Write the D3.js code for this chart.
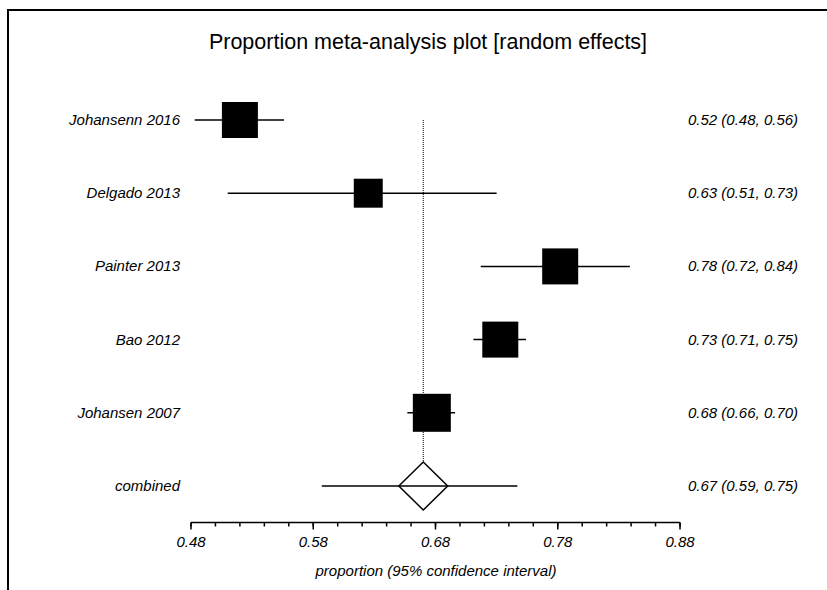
<!DOCTYPE html>
<html>
<head>
<meta charset="utf-8">
<script src="https://cdn.jsdelivr.net/npm/d3@7"></script>
<style>
  body { margin: 0; background: #fff; }
  svg { display: block; font-family: "Liberation Sans", Arial, sans-serif; }
</style>
</head>
<body>
<svg width="827" height="590"></svg>
<script>
// Study data
var studies = ["Johansenn 2016", "Delgado 2013", "Painter 2013", "Bao 2012", "Johansen 2007"];
var estimates = [0.520, 0.625, 0.782, 0.733, 0.677];
var lower = [0.483, 0.510, 0.717, 0.711, 0.657];
var upper = [0.556, 0.730, 0.839, 0.754, 0.696];
var weights = [21.0, 13.6, 21.0, 21.0, 23.4];   // % weight (box area)
var estLabels = ["0.52 (0.48, 0.56)", "0.63 (0.51, 0.73)", "0.78 (0.72, 0.84)",
                 "0.73 (0.71, 0.75)", "0.68 (0.66, 0.70)"];

// Pooled estimate
var pooled = {name: "combined", est: 0.670, ciLo: 0.650, ciHi: 0.690,
              lo: 0.587, hi: 0.747, label: "0.67 (0.59, 0.75)"};

var ticks = [0.48, 0.58, 0.68, 0.78, 0.88];
var minorTicks = d3.range(0, 21).map(function(i) { return 0.48 + i * 0.02; });

var svg = d3.select("svg");

// frame
svg.append("rect")
    .attr("x", 8).attr("y", 10)
    .attr("width", 840).attr("height", 600)
    .attr("fill", "none")
    .attr("stroke", "#000")
    .attr("stroke-width", 2);

svg.append("text")
    .attr("x", 428).attr("y", 49)
    .attr("text-anchor", "middle")
    .style("font-size", "21.5px")
    .text("Proportion meta-analysis plot [random effects]");

var x = d3.scaleLinear().domain([0.48, 0.88]).range([191, 680]);
var rows = studies.concat([pooled.name]);
var y = d3.scalePoint().domain(rows).range([120, 486]);
var box = d3.scaleSqrt().domain([0, d3.max(weights)]).range([0, 38]);

var data = studies.map(function(s, i) {
  return {name: s, est: estimates[i], lo: lower[i], hi: upper[i], w: weights[i], label: estLabels[i]};
});

// dotted line at pooled estimate
svg.append("line")
    .attr("x1", x(pooled.est)).attr("x2", x(pooled.est))
    .attr("y1", y(studies[0])).attr("y2", y(pooled.name) - 24)
    .attr("stroke", "#000")
    .attr("stroke-width", 1)
    .attr("stroke-dasharray", "1,1");

var g = svg.append("g");

// CI lines
g.selectAll(".ci")
    .data(data)
  .enter().append("line")
    .attr("x1", function(d) { return x(d.lo); })
    .attr("x2", function(d) { return x(d.hi); })
    .attr("y1", function(d) { return y(d.name); })
    .attr("y2", function(d) { return y(d.name); })
    .attr("stroke", "#000")
    .attr("stroke-width", 1.5);

// boxes
g.selectAll(".box")
    .data(data)
  .enter().append("rect")
    .attr("x", function(d) { return x(d.est) - box(d.w) / 2; })
    .attr("y", function(d) { return y(d.name) - box(d.w) / 2; })
    .attr("width", function(d) { return box(d.w); })
    .attr("height", function(d) { return box(d.w); })
    .attr("fill", "#000");

// pooled line + diamond
var py = y(pooled.name);
g.append("line")
    .attr("x1", x(pooled.lo)).attr("x2", x(pooled.hi))
    .attr("y1", py).attr("y2", py)
    .attr("stroke", "#000")
    .attr("stroke-width", 1.5);

g.append("path")
    .attr("d", "M" + x(pooled.ciLo) + "," + py +
               "L" + x(pooled.est) + "," + (py - 24) +
               "L" + x(pooled.ciHi) + "," + py +
               "L" + x(pooled.est) + "," + (py + 24) + "Z")
    .attr("fill", "#fff")
    .attr("stroke", "#000")
    .attr("stroke-width", 1.5);
g.append("line")
    .attr("x1", x(pooled.ciLo)).attr("x2", x(pooled.ciHi))
    .attr("y1", py).attr("y2", py)
    .attr("stroke", "#000")
    .attr("stroke-width", 1.5);

// labels
var all = data.concat([pooled]);
svg.selectAll(".lab")
    .data(all)
  .enter().append("text")
    .attr("x", 180)
    .attr("y", function(d) { return y(d.name) + 5; })
    .attr("text-anchor", "end")
    .style("font-style", "italic")
    .style("font-size", "15px")
    .text(function(d) { return d.name; });

svg.selectAll(".val")
    .data(all)
  .enter().append("text")
    .attr("x", 688)
    .attr("y", function(d) { return y(d.name) + 5; })
    .style("font-style", "italic")
    .style("font-size", "15px")
    .text(function(d) { return d.label; });

// axis
var axisY = 522.5;
svg.append("line")
    .attr("x1", x(0.48)).attr("x2", x(0.88))
    .attr("y1", axisY).attr("y2", axisY)
    .attr("stroke", "#000").attr("stroke-width", 1.5);

svg.selectAll(".minor")
    .data(minorTicks)
  .enter().append("line")
    .attr("x1", function(d) { return x(d); })
    .attr("x2", function(d) { return x(d); })
    .attr("y1", axisY).attr("y2", axisY + 4)
    .attr("stroke", "#000").attr("stroke-width", 1.5);

svg.selectAll(".major")
    .data(ticks)
  .enter().append("line")
    .attr("x1", function(d) { return x(d); })
    .attr("x2", function(d) { return x(d); })
    .attr("y1", axisY).attr("y2", axisY + 7)
    .attr("stroke", "#000").attr("stroke-width", 1.5);

svg.selectAll(".tl")
    .data(ticks)
  .enter().append("text")
    .attr("x", function(d) { return x(d); })
    .attr("y", 547)
    .attr("text-anchor", "middle")
    .style("font-style", "italic")
    .style("font-size", "15px")
    .text(function(d) { return d3.format(".2f")(d); });

svg.append("text")
    .attr("x", 436).attr("y", 576)
    .attr("text-anchor", "middle")
    .style("font-style", "italic")
    .style("font-size", "15px")
    .text("proportion (95% confidence interval)");
</script>
</body>
</html>
